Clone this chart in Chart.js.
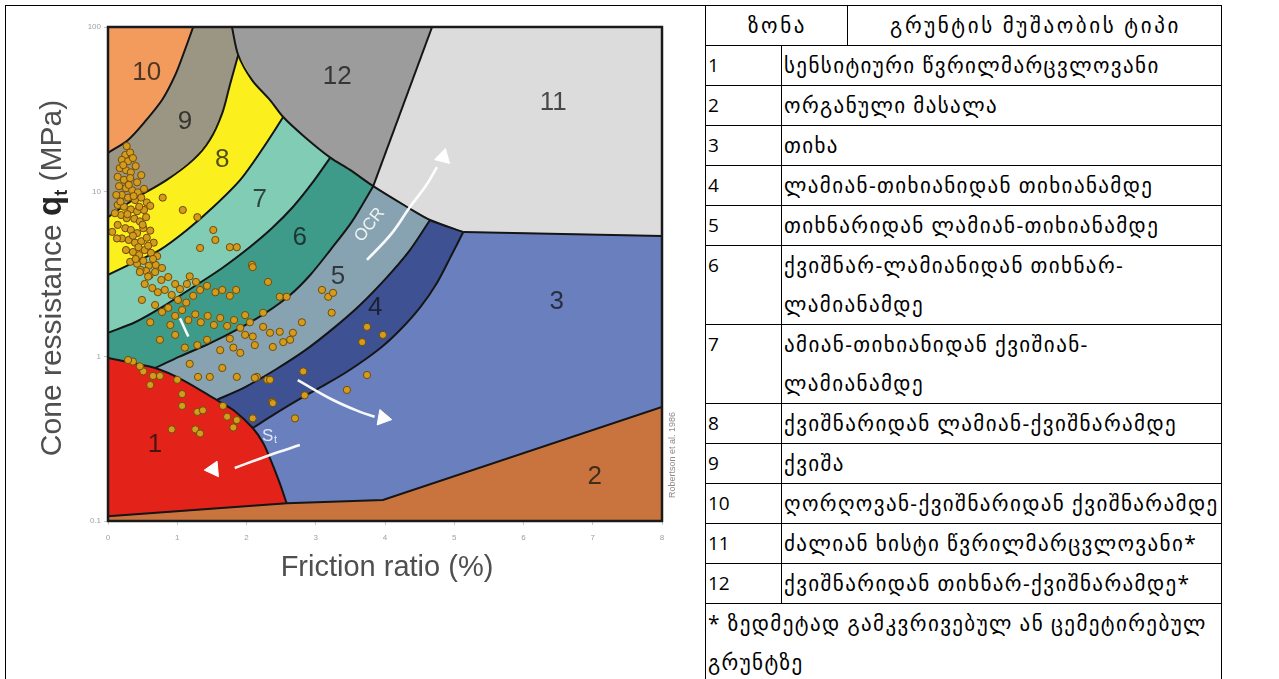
<!DOCTYPE html>
<html>
<head>
<meta charset="UTF-8" />
<title>Robertson 1986 soil behaviour chart</title>
<script src="https://cdn.jsdelivr.net/npm/chart.js"></script>
<style>
  body { margin: 0; background: #fff; width: 1279px; height: 679px; overflow: hidden; position: relative; }
  #chartCell { position: absolute; left: 5px; top: 5px; width: 700px; height: 700px; border-left: 1px solid #000; border-top: 1px solid #000; }
  #chartBox { position: absolute; left: 0; top: 0; width: 705px; height: 679px; }
  table.zones { position: absolute; left: 705px; top: 5px; width: 516px; border-collapse: collapse; table-layout: fixed;
    font-family: "Open Sans", "DejaVu Sans", sans-serif; font-size: 21px; letter-spacing: 1.4px; color: #000; }
  table.zones td { border: 1px solid #000; padding: 0 0 0 2px; line-height: 39px; vertical-align: top; height: 39px; white-space: nowrap; }
  table.zones td.n { font-size: 19px; letter-spacing: 0; }
  table.zones td.c { text-align: center; letter-spacing: 2.6px; }
  table.zones tr.two td { height: 78px; }
</style>
</head>
<body>
<div id="chartCell"></div>
<div id="chartBox"><canvas id="sbtChart"></canvas></div>

<table class="zones">
  <colgroup><col style="width:76px"><col style="width:66px"><col style="width:374px"></colgroup>
  <tr><td colspan="2" class="c">ზონა</td><td class="c">გრუნტის მუშაობის ტიპი</td></tr>
  <tr><td class="n">1</td><td colspan="2">სენსიტიური წვრილმარცვლოვანი</td></tr>
  <tr><td class="n">2</td><td colspan="2">ორგანული მასალა</td></tr>
  <tr><td class="n">3</td><td colspan="2">თიხა</td></tr>
  <tr><td class="n">4</td><td colspan="2">ლამიან-თიხიანიდან თიხიანამდე</td></tr>
  <tr><td class="n">5</td><td colspan="2">თიხნარიდან ლამიან-თიხიანამდე</td></tr>
  <tr class="two"><td class="n">6</td><td colspan="2">ქვიშნარ-ლამიანიდან თიხნარ-<br>ლამიანამდე</td></tr>
  <tr class="two"><td class="n">7</td><td colspan="2">ამიან-თიხიანიდან ქვიშიან-<br>ლამიანამდე</td></tr>
  <tr><td class="n">8</td><td colspan="2">ქვიშნარიდან ლამიან-ქვიშნარამდე</td></tr>
  <tr><td class="n">9</td><td colspan="2">ქვიშა</td></tr>
  <tr><td class="n">10</td><td colspan="2">ღორღოვან-ქვიშნარიდან ქვიშნარამდე</td></tr>
  <tr><td class="n">11</td><td colspan="2">ძალიან ხისტი წვრილმარცვლოვანი*</td></tr>
  <tr><td class="n">12</td><td colspan="2">ქვიშნარიდან თიხნარ-ქვიშნარამდე*</td></tr>
  <tr class="two"><td colspan="3">* ზედმეტად გამკვრივებულ ან ცემეტირებულ<br>გრუნტზე</td></tr>
</table>

<script>
  // axis ticks
  const xTicks = [0, 1, 2, 3, 4, 5, 6, 7, 8];
  const yTicks = [0.1, 1, 10, 100];

  // zone boundaries as [Rf %, qt MPa]
  const edge10 = [[1.23,100],[1.11,72.5],[0.97,51],[0.78,36],[0.53,26.5],[0.29,20.6],[0,17.2]];
  const edge12 = [[1.79,100],[1.88,67.6],[2.08,47.6],[2.34,36],[2.53,28.4],[2.84,21.5],[3.21,16.1],[3.49,13.6],[3.83,10.8],[4.32,8.07],[4.65,6.73],[5.13,5.69]];
  const edge98 = [[1.88,67.6],[1.76,44.5],[1.65,30],[1.47,20.6],[1.23,15.6],[0.85,11.8],[0.36,8.9],[0,7.0]];
  const edge87 = [[2.53,28.4],[2.22,17.9],[1.91,11.8],[1.52,8.07],[1.14,5.85],[0.75,4.43],[0.36,3.69],[0,3.12]];
  const edge76 = [[3.21,16.1],[2.95,11.3],[2.67,8.07],[2.37,6.01],[2.05,4.61],[1.65,3.44],[1.21,2.6],[0.78,1.99],[0.39,1.61],[0,1.39]];
  const edge65 = [[3.83,10.8],[3.52,6.55],[3.21,4.42],[2.92,3.12],[2.63,2.36],[2.27,1.83],[1.91,1.49],[1.47,1.2],[1.04,1.0],[0.68,0.85]];
  const edge54 = [[4.65,6.73],[4.36,4.42],[4.03,3.03],[3.64,2.05],[3.28,1.51],[2.85,1.09],[2.41,0.826],[1.98,0.651],[1.57,0.543]];
  const edge43 = [[5.13,5.69],[4.94,3.96],[4.75,2.79],[4.51,1.99],[4.22,1.45],[3.93,1.12],[3.49,0.826],[3.13,0.67],[2.77,0.551],[2.41,0.447],[2.09,0.367]];
  const edge1 = [[0,0.977],[0.68,0.85],[1.08,0.718],[1.57,0.543],[1.81,0.472],[2.09,0.367],[2.24,0.298],[2.34,0.24],[2.48,0.17],[2.58,0.128]];
  const edge2 = [[0,0.107],[2.58,0.128],[3.97,0.134],[8,0.492]];
  const edge11 = [[4.68,100],[3.83,10.8]];
  const edge3 = [[5.13,5.69],[8,5.38]];

  // zone names, colours and label positions (zone 1..12)
  const zoneNames = ['1','2','3','4','5','6','7','8','9','10','11','12'];
  const zoneColors = ['#e3231a','#c9743e','#6a7fbd','#3e5192','#87a3b1','#3f9b89','#80ccb5','#fbf01e','#9b9584','#f29b5c','#dcdcdc','#9c9c9c'];
  const labelRf = [0.68, 7.03, 6.48, 3.86, 3.32, 2.77, 2.19, 1.65, 1.11, 0.56, 6.43, 3.31];
  const labelQt = [0.29, 0.185, 2.14, 1.96, 3.03, 5.24, 8.9, 15.6, 26.5, 52.6, 34.5, 49.7];

  // CPT data points [Rf %, qt MPa]
  const cptPoints = [
    [0.27,18.9],[0.25,16.7],[0.32,17.3],[0.20,15.6],[0.29,15.3],[0.36,16.0],[0.17,13.9],[0.26,13.5],[0.33,13.1],[0.40,14.3],
    [0.14,12.3],[0.23,11.8],[0.32,12.1],[0.42,11.4],[0.48,12.6],[0.16,10.8],[0.26,10.5],[0.35,10.2],[0.43,9.9],[0.52,10.4],
    [0.20,9.55],[0.29,9.2],[0.39,8.9],[0.48,9.2],[0.56,8.6],[0.14,8.3],[0.23,8.1],[0.33,7.8],[0.42,7.6],[0.52,7.74],
    [0.61,8.2],[0.19,7.21],[0.27,6.9],[0.38,6.85],[0.46,6.6],[0.55,7.0],[0.14,6.28],[0.25,6.0],[0.33,5.85],[0.42,5.6],
    [0.51,6.0],[0.61,5.8],[0.20,5.2],[0.30,5.09],[0.39,4.9],[0.48,5.0],[0.56,5.25],[0.66,4.9],[0.13,5.2],[0.26,4.42],
    [0.36,4.3],[0.45,4.12],[0.53,4.42],[0.62,4.25],[0.71,4.06],[0.32,3.75],[0.42,3.65],[0.51,3.8],[0.59,3.55],[0.69,3.59],
    [0.78,3.44],[0.10,7.4],[0.12,9.55],[0.06,5.7],[0.22,14.5],[0.30,11.0],[0.37,9.4],[0.18,8.7],[0.45,8.1],[0.28,7.3],
    [0.50,6.3],[0.36,5.4],[0.44,4.6],[0.58,4.7],[0.65,3.9],[0.40,3.9],[0.55,3.3],[0.60,3.1],[0.47,3.35],
    [0.79,9.2],[1.08,7.74],[1.29,7.0],
    [1.52,5.85],[1.55,5.09],[1.33,4.55],[1.76,4.6],[1.86,4.6],[2.08,3.59],[0.46,3.25],[0.58,3.05],[0.68,3.25],[0.77,2.91],
    [0.87,3.03],[0.97,2.75],[0.53,2.75],[0.64,2.6],[0.72,2.45],[0.82,2.53],[0.92,2.36],[1.04,2.56],[1.14,2.75],[1.18,3.06],
    [1.27,2.83],[1.01,2.2],[1.13,2.12],[1.23,2.33],[1.33,2.53],[1.43,2.68],[1.55,2.45],[1.65,2.53],[1.76,2.33],[1.85,2.53],
    [0.68,2.05],[0.78,1.86],[0.87,1.97],[0.97,1.76],[1.07,1.91],[1.16,1.66],[1.26,1.8],[1.34,1.61],[1.44,1.76],[1.53,1.55],
    [1.62,1.71],[1.72,1.53],[1.82,1.66],[1.91,1.49],[1.98,1.78],[2.05,1.61],[2.09,3.48],[2.31,2.83],[2.48,2.3],[2.58,2.3],
    [3.09,2.53],[3.18,2.3],[3.25,2.43],[3.23,1.84],[2.80,1.61],[2.24,1.84],[2.24,1.51],[2.48,1.41],[2.63,1.26],[2.09,1.32],
    [3.74,1.51],[3.67,1.22],[3.97,1.35],[2.34,1.39],[2.53,1.22],[2.67,1.39],[2.38,1.14],[2.12,1.17],[1.91,1.05],[1.81,1.13],
    [1.62,1.09],[1.18,0.9],[1.30,0.75],[1.47,0.75],[1.65,0.85],[1.86,0.75],[2.15,0.75],[2.30,0.72],[1.43,1.26],[1.29,1.17],
    [1.76,1.28],[1.98,1.35],[0.97,1.35],[0.75,1.26],[1.11,1.13],[0.90,1.55],[0.61,1.61],[0.49,2.2],
    [2.82,0.81],[3.74,0.77],[3.45,0.625],[2.84,0.58],[2.37,0.53],[2.70,0.42],[2.09,0.42],[2.12,0.74],[2.34,0.72],[2.38,0.52],
    [0.36,0.93],[0.51,0.81],[0.65,0.76],[0.61,0.67],[0.75,0.76],[1.00,0.72],[1.07,0.59],[1.07,0.5],[1.29,0.46],[1.37,0.47],
    [0.92,0.36],[1.26,0.36],[1.33,0.34],[1.66,0.5],[1.72,0.43],[1.86,0.41],[1.81,0.37],[0.46,0.87],[0.29,0.95]
  ];

  // white trend arrows (OCR, St) : shafts and heads
  const ocrShaft = [[3.74,3.85],[4.10,5.6],[4.36,8.07],[4.60,11.0],[4.75,14.1]];
  const stShaftLeft = [[2.77,0.289],[2.34,0.252],[1.83,0.21]];
  const stShaftRight = [[2.74,0.718],[3.25,0.543],[3.64,0.46],[3.85,0.43]];
  const smallShaft = [[1.04,1.70],[1.16,1.32]];
  const arrowHeads = [[4.84,16.2],[1.52,0.206],[3.97,0.422]];
  const arrowTurn = [14, 265, 100];

  const rev = a => a.slice().reverse();
  const pts = a => a.map(([x, y]) => ({x, y}));

  const zonePolys = [
    [...edge2.slice(0, 2), ...rev(edge1)],                                              // 1
    [[0,0.1],[8,0.1],...rev(edge2)],                                                    // 2
    [...edge3, ...rev(edge2.slice(1)), ...rev(edge1.slice(5)), ...rev(edge43)],           // 3
    [...edge12.slice(10), ...edge43, ...rev(edge1.slice(3, 6)), ...rev(edge54)],         // 4
    [...edge12.slice(8, 11), ...edge54, ...rev(edge1.slice(1, 4)), ...rev(edge65)],      // 5
    [...edge12.slice(6, 9), ...edge65, ...rev(edge1.slice(0, 2)), ...rev(edge76)],       // 6
    [...edge12.slice(4, 7), ...edge76, ...rev(edge87)],                                 // 7
    [...edge12.slice(1, 5), ...edge87, ...rev(edge98)],                                 // 8
    [...edge12.slice(0, 2), ...edge98, ...rev(edge10)],                                 // 9
    [[0,100], ...edge10],                                                               // 10
    [[4.68,100],[8,100],[8,5.38],...rev(edge12.slice(8))],                              // 11
    [...edge12.slice(0, 9), [4.68,100]]                                                 // 12
  ];

  const datasets = [];

  datasets.push({
    type: 'scatter', data: pts(cptPoints), order: 1,
    pointRadius: 3.6, borderWidth: 1, backgroundColor: '#d49c1e', borderColor: '#6e4c08'
  });

  datasets.push({
    type: 'scatter', data: pts(arrowHeads), order: 2,
    pointStyle: 'triangle', pointRadius: 9, rotation: arrowTurn,
    backgroundColor: '#ffffff', borderColor: '#ffffff', borderWidth: 1
  });

  [ocrShaft, stShaftLeft, stShaftRight, smallShaft].forEach(s => datasets.push({
    type: 'line', data: pts(s), order: 3, borderColor: 'rgba(255,255,255,0.95)', borderWidth: 2.6,
    tension: 0.4, pointRadius: 0, fill: false
  }));

  [edge10, edge12, edge98, edge87, edge76, edge65, edge54, edge43, edge1].forEach(e => datasets.push({
    type: 'line', data: pts(e), order: 5, borderColor: '#151515', borderWidth: 2,
    tension: 0.3, pointRadius: 0, fill: false
  }));
  [edge2, edge11, edge3].forEach(e => datasets.push({
    type: 'line', data: pts(e), order: 5, borderColor: '#151515', borderWidth: 2,
    tension: 0, pointRadius: 0, fill: false
  }));

  zonePolys.forEach((p, i) => datasets.push({
    type: 'line', data: pts([...p, p[0]]), order: 10,
    backgroundColor: zoneColors[i], borderColor: zoneColors[i], borderWidth: 1,
    fill: 'shape', tension: 0, pointRadius: 0
  }));

  const FONT = '"Liberation Sans", Arial, sans-serif';

  const decor = {
    id: 'decor',
    afterDatasetsDraw(chart) {
      const {ctx, chartArea: a, scales: {x, y}} = chart;
      ctx.save();

      // plot frame
      ctx.strokeStyle = '#1a1a1a';
      ctx.lineWidth = 2.5;
      ctx.strokeRect(a.left, a.top, a.right - a.left, a.bottom - a.top);

      // zone numbers
      ctx.font = '26px ' + FONT;
      ctx.textAlign = 'center';
      ctx.textBaseline = 'middle';
      ctx.fillStyle = 'rgba(15,15,15,0.72)';
      zoneNames.forEach((n, i) => {
        ctx.fillText(n, x.getPixelForValue(labelRf[i]), y.getPixelForValue(labelQt[i]));
      });

      // OCR label
      ctx.save();
      ctx.translate(x.getPixelForValue(3.78), y.getPixelForValue(6.28));
      ctx.rotate(-52 * Math.PI / 180);
      ctx.fillStyle = '#eef3f3';
      ctx.font = '17px ' + FONT;
      ctx.fillText('OCR', 0, 0);
      ctx.restore();

      // St label
      const sx = x.getPixelForValue(2.37), sy = y.getPixelForValue(0.328);
      ctx.fillStyle = '#dfe6f7';
      ctx.textAlign = 'left';
      ctx.font = '17px ' + FONT;
      ctx.fillText('S', sx - 10, sy);
      ctx.font = '11px ' + FONT;
      ctx.fillText('t', sx + 2, sy + 4);

      // source note
      ctx.save();
      ctx.translate(a.right + 11, a.bottom - 66);
      ctx.rotate(-Math.PI / 2);
      ctx.textAlign = 'center';
      ctx.fillStyle = '#8a8a8a';
      ctx.font = '9px ' + FONT;
      ctx.fillText('Robertson et al. 1986', 0, 0);
      ctx.restore();

      // x title
      ctx.textAlign = 'center';
      ctx.fillStyle = '#4f4f4f';
      ctx.font = '29px ' + FONT;
      ctx.fillText('Friction ratio (%)', (a.left + a.right) / 2 + 2, a.bottom + 47);

      // y title with bold q and subscript t
      ctx.save();
      ctx.translate(a.left - 58, (a.top + a.bottom) / 2 + 4);
      ctx.rotate(-Math.PI / 2);
      ctx.textAlign = 'left';
      ctx.textBaseline = 'alphabetic';
      const parts = [
        {t: 'Cone ressistance ', f: '30px ' + FONT, c: '#4f4f4f', dy: 0},
        {t: 'q', f: 'bold 33px ' + FONT, c: '#262626', dy: 0},
        {t: 't', f: 'bold 18px ' + FONT, c: '#262626', dy: 6},
        {t: ' (MPa)', f: '30px ' + FONT, c: '#4f4f4f', dy: 0}
      ];
      let total = 0;
      parts.forEach(p => { ctx.font = p.f; p.w = ctx.measureText(p.t).width; total += p.w; });
      let px = -total / 2;
      parts.forEach(p => {
        ctx.font = p.f; ctx.fillStyle = p.c;
        ctx.fillText(p.t, px, 11 + p.dy);
        px += p.w;
      });
      ctx.restore();

      ctx.restore();
    }
  };

  new Chart(document.getElementById('sbtChart'), {
    type: 'scatter',
    data: { datasets },
    options: {
      responsive: true,
      maintainAspectRatio: false,
      animation: false,
      events: [],
      layout: { padding: { left: 20, right: 43, top: 27, bottom: 100 } },
      plugins: { legend: { display: false }, tooltip: { enabled: false } },
      scales: {
        x: {
          type: 'linear', min: 0, max: 8,
          afterBuildTicks: s => { s.ticks = xTicks.map(v => ({value: v})); },
          afterFit: s => { s.height = 58; },
          ticks: { font: { size: 8, family: FONT }, color: '#a0a0a0', padding: 8 },
          grid: { drawOnChartArea: false, tickLength: 4, color: '#c8c8c8' },
          border: { display: false }
        },
        y: {
          type: 'logarithmic', min: 0.1, max: 100,
          afterBuildTicks: s => { s.ticks = yTicks.map(v => ({value: v})); },
          afterFit: s => { s.width = 88; },
          ticks: { callback: v => String(v), font: { size: 8, family: FONT }, color: '#a0a0a0', padding: 3 },
          grid: { drawOnChartArea: false, tickLength: 4, color: '#c8c8c8' },
          border: { display: false }
        }
      }
    },
    plugins: [decor]
  });
</script>
</body>
</html>
